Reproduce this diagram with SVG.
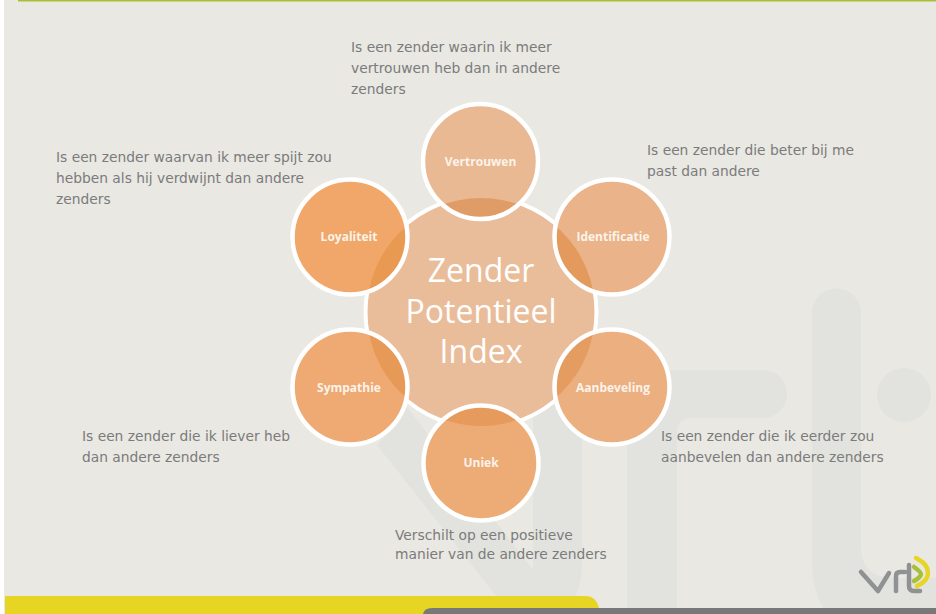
<svg xmlns="http://www.w3.org/2000/svg" width="936" height="614" viewBox="0 0 936 614">
<style>
.d{font-family:"DejaVu Sans","Liberation Sans",sans-serif;font-size:13.8px;fill:#7b7b7b}
.l{font-family:"Open Sans","Liberation Sans",sans-serif;font-size:12px;font-weight:700;fill:#fbf3ea;text-anchor:middle}
.c{font-family:"Open Sans","Liberation Sans",sans-serif;font-size:32px;fill:#fff;text-anchor:middle}
.w{fill:#e2e3de}
.ring{fill:none;stroke:#fff;stroke-width:4.5}
</style>
<defs><clipPath id="core"><circle cx="481" cy="312" r="114"/></clipPath></defs>
<rect width="936" height="614" fill="#fff"/>
<rect x="4" y="0" width="932" height="614" fill="#e9e8e3"/>
<rect x="18" y="0" width="918" height="1.5" fill="#a9bf38"/>
<g id="watermark">
<path class="w" d="M377,445L497,597L510,614L565,614Q578,600 582,570L582,395A24.5,24.5 0 0 0 533,395L533,570L407,407Z"/>
<path class="w" d="M627,614L627,410Q627,370 667,370L763,370A24,24 0 0 1 763,418L692,418Q677,418 677,433L677,614Z"/>
<path class="w" d="M812,313A24.5,24.5 0 0 1 861,313L861,548Q861,578 895,578L936,578L936,614L828,614Q812,595 812,560Z"/>
<circle class="w" cx="904" cy="395" r="27"/>
</g>
<g id="bars">
<path d="M5,614V596H586Q596,596 599,608L600,614Z" fill="#e6d523"/>
<path d="M423,614Q424,608 432,608H936V614Z" fill="#787878"/>
</g>
<g id="logo" fill="none" stroke-linecap="round" stroke-linejoin="round">
<path d="M861,572L878,591L889,573M896,591V576Q896,572 900,572H905M909,565V586Q909,591 914,591H920" stroke="#8f9193" stroke-width="4.5"/>
<path d="M914,567Q921,572 921,574Q921,577 914,581" stroke="#a9bf38" stroke-width="4.5"/>
<path d="M916,558Q928,564 928,573Q928,581 917,586" stroke="#e6d523" stroke-width="4.5"/>
</g>
<g id="node-core"><circle cx="481" cy="312" r="115.5" fill="#e9bd9a" stroke="#fff" stroke-width="4"/>
<text class="c" x="481" y="282">Zender</text><text class="c" x="481" y="323">Potentieel</text><text class="c" x="481" y="363">Index</text></g>
<g id="node-vertrouwen"><circle cx="480.5" cy="161.5" r="57.5" fill="#e9b994"/><circle cx="480.5" cy="161.5" r="57.5" fill="#e09c66" clip-path="url(#core)"/><circle class="ring" cx="480.5" cy="161.5" r="57.5"/><text class="l" x="480.5" y="166">Vertrouwen</text></g>
<g id="node-identificatie"><circle cx="612" cy="237" r="57.5" fill="#eab389"/><circle cx="612" cy="237" r="57.5" fill="#e39a5c" clip-path="url(#core)"/><circle class="ring" cx="612" cy="237" r="57.5"/><text class="l" x="613" y="241">Identificatie</text></g>
<g id="node-loyaliteit"><circle cx="350" cy="237" r="57.5" fill="#f0a769"/><circle cx="350" cy="237" r="57.5" fill="#e99a52" clip-path="url(#core)"/><circle class="ring" cx="350" cy="237" r="57.5"/><text class="l" x="349" y="241">Loyaliteit</text></g>
<g id="node-sympathie"><circle cx="350" cy="387" r="57.5" fill="#eeaa72"/><circle cx="350" cy="387" r="57.5" fill="#e79a58" clip-path="url(#core)"/><circle class="ring" cx="350" cy="387" r="57.5"/><text class="l" x="349" y="392">Sympathie</text></g>
<g id="node-aanbeveling"><circle cx="612" cy="387" r="57.5" fill="#ecaf80"/><circle cx="612" cy="387" r="57.5" fill="#e59c60" clip-path="url(#core)"/><circle class="ring" cx="612" cy="387" r="57.5"/><text class="l" x="613" y="392">Aanbeveling</text></g>
<g id="node-uniek"><circle cx="481" cy="463" r="57.5" fill="#edac76"/><circle cx="481" cy="463" r="57.5" fill="#e69a5c" clip-path="url(#core)"/><circle class="ring" cx="481" cy="463" r="57.5"/><text class="l" x="481" y="467">Uniek</text></g>
<g id="captions">
<text class="d" x="351" y="52">Is een zender waarin ik meer</text><text class="d" x="351" y="73">vertrouwen heb dan in andere</text><text class="d" x="351" y="94">zenders</text>
<text class="d" x="56" y="162">Is een zender waarvan ik meer spijt zou</text><text class="d" x="56" y="183">hebben als hij verdwijnt dan andere</text><text class="d" x="56" y="204">zenders</text>
<text class="d" x="647" y="155">Is een zender die beter bij me</text><text class="d" x="647" y="176">past dan andere</text>
<text class="d" x="82" y="441">Is een zender die ik liever heb</text><text class="d" x="82" y="462">dan andere zenders</text>
<text class="d" x="661" y="441">Is een zender die ik eerder zou</text><text class="d" x="661" y="462">aanbevelen dan andere zenders</text>
<text class="d" x="395" y="540">Verschilt op een positieve</text><text class="d" x="395" y="559">manier van de andere zenders</text>
</g>
</svg>
